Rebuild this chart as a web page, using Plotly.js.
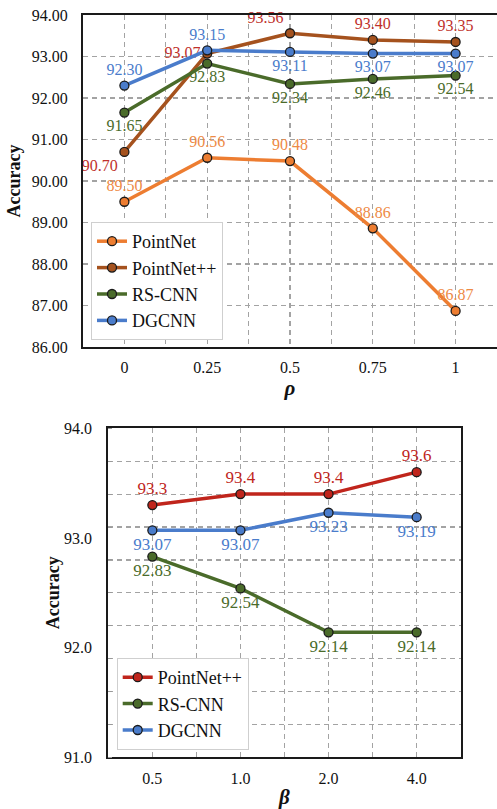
<!DOCTYPE html>
<html><head><meta charset="utf-8">
<script src="https://cdn.plot.ly/plotly-3.0.1.min.js"></script>
<style>html,body{margin:0;padding:0;background:#fff}#chart{width:497px;height:809px}</style>
</head><body><div id="chart"></div>
<script>
// ---- data: top chart (rho) ----
const rhoLabels = ['0', '0.25', '0.5', '0.75', '1'];
const pointnetRho = [89.50, 90.56, 90.48, 88.86, 86.87];
const pointnetppRho = [90.70, 93.07, 93.56, 93.40, 93.35];
const rscnnRho = [91.65, 92.83, 92.34, 92.46, 92.54];
const dgcnnRho = [92.30, 93.15, 93.11, 93.07, 93.07];
const topYTicks = [86, 87, 88, 89, 90, 91, 92, 93, 94];

// ---- data: bottom chart (beta) ----
const betaLabels = ['0.5', '1.0', '2.0', '4.0'];
const pointnetppBeta = [93.3, 93.4, 93.4, 93.6];
const rscnnBeta = [92.83, 92.54, 92.14, 92.14];
const dgcnnBeta = [93.07, 93.07, 93.23, 93.19];
const botYTicks = [91, 92, 93, 94];

const SERIF = 'Liberation Serif, Times New Roman, serif';
const C = {
  pn: '#ED7D31', pnText: '#EE8A45',
  pnpp: '#A5521E', pnppText: '#C0302B',
  rs: '#4A6B2A', rsText: '#4A6B2A',
  dg: '#4A7CCB', dgText: '#4A7CCB',
  red: '#C0251C', redText: '#C0251C'
};

const idx = arr => arr.map((_, i) => i);
const halfTicks = labels => {
  const v = [], t = [];
  labels.forEach((l, i) => { v.push(i); t.push(l); if (i < labels.length - 1) { v.push(i + 0.5); t.push(''); } });
  return {v, t};
};

function series(xa, ya, legend, name, labels, values, color, textColor, pos, decimals, tsize) {
  return {
    type: 'scatter', mode: 'lines+markers+text',
    xaxis: xa, yaxis: ya, legend: legend, legendgroup: name + legend,
    name: name,
    x: idx(labels), y: values,
    text: values.map(v => v.toFixed(decimals)),
    textposition: pos,
    textfont: {family: SERIF, size: tsize, color: textColor},
    line: {color: color, width: 3.5},
    marker: {color: color, size: 9, line: {color: '#1a1a1a', width: 1.3}},
    cliponaxis: false,
    hoverinfo: 'skip'
  };
}

const allTop = (p) => rhoLabels.map(() => p);
const allBot = (p) => betaLabels.map(() => p);

const traces = [
  series('x', 'y', 'legend', 'PointNet', rhoLabels, pointnetRho, C.pn, C.pnText, allTop('top center'), 2, 16),
  series('x', 'y', 'legend', 'PointNet++', rhoLabels, pointnetppRho, C.pnpp, C.pnppText,
         ['bottom left', 'middle left', 'top left', 'top center', 'top center'], 2, 16),
  series('x', 'y', 'legend', 'RS-CNN', rhoLabels, rscnnRho, C.rs, C.rsText, allTop('bottom center'), 2, 16),
  series('x', 'y', 'legend', 'DGCNN', rhoLabels, dgcnnRho, C.dg, C.dgText,
         ['top center', 'top center', 'bottom center', 'bottom center', 'bottom center'], 2, 16),
  series('x2', 'y2', 'legend2', 'PointNet++', betaLabels, pointnetppBeta, C.red, C.redText, allBot('top center'), 1, 17),
  series('x2', 'y2', 'legend2', 'RS-CNN', betaLabels, rscnnBeta, C.rs, C.rsText, allBot('bottom center'), 2, 17),
  series('x2', 'y2', 'legend2', 'DGCNN', betaLabels, dgcnnBeta, C.dg, C.dgText, allBot('bottom center'), 2, 17)
];

const W = 497, H = 809;
const gridStyle = {gridcolor: '#a3a3a3', gridwidth: 1.2, griddash: '5px,4px'};
const tickFont = {family: SERIF, size: 16, color: '#111'};
const topX = halfTicks(rhoLabels);
const botX = halfTicks(betaLabels);

const layout = {
  width: W, height: H,
  margin: {l: 0, r: 0, t: 0, b: 0},
  paper_bgcolor: '#fff', plot_bgcolor: '#fff',
  showlegend: true,
  xaxis: Object.assign({
    domain: [83 / W, 1], anchor: 'y',
    range: [-0.5, rhoLabels.length - 0.5],
    tickmode: 'array', tickvals: topX.v, ticktext: topX.t,
    showgrid: true, zeroline: false,
    showline: true, linecolor: '#1a1a1a', linewidth: 2, mirror: true,
    ticks: '', ticklabelstandoff: 5,
    tickfont: tickFont,
    title: {text: 'ρ', standoff: 3, font: {family: SERIF, size: 21, weight: 'bold', style: 'italic', color: '#111'}}
  }, gridStyle),
  yaxis: Object.assign({
    domain: [1 - 347 / H, 1 - 15 / H], anchor: 'x',
    range: [86, 94],
    tickmode: 'array', tickvals: topYTicks, ticktext: topYTicks.map(v => v.toFixed(2)),
    showgrid: true, zeroline: false,
    showline: true, linecolor: '#1a1a1a', linewidth: 2, mirror: true,
    ticks: '', ticklabelstandoff: 10,
    tickfont: tickFont,
    title: {text: 'Accuracy', standoff: 6, font: {family: SERIF, size: 18, weight: 'bold', color: '#111'}}
  }, gridStyle),
  xaxis2: Object.assign({
    domain: [108.3 / W, 460.7 / W], anchor: 'y2',
    range: [-0.5, betaLabels.length - 0.5],
    tickmode: 'array', tickvals: botX.v, ticktext: botX.t,
    showgrid: true, zeroline: false,
    showline: true, linecolor: '#1a1a1a', linewidth: 2, mirror: true,
    ticks: '', ticklabelstandoff: 5,
    tickfont: tickFont,
    title: {text: 'β', standoff: 5, font: {family: SERIF, size: 21, weight: 'bold', style: 'italic', color: '#111'}}
  }, gridStyle),
  yaxis2: {
    domain: [1 - 757.3 / H, 1 - 428.3 / H], anchor: 'x2',
    range: [91, 94],
    tickmode: 'array', tickvals: botYTicks, ticktext: botYTicks.map(v => v.toFixed(1)),
    showgrid: false, zeroline: false,
    showline: true, linecolor: '#1a1a1a', linewidth: 2, mirror: true,
    ticks: '', ticklabelstandoff: 11,
    tickfont: tickFont,
    minor: Object.assign({tickmode: 'linear', tick0: 91, dtick: 0.3, showgrid: true,
      ticks: 'inside', ticklen: 4, tickcolor: '#999', tickwidth: 1}, gridStyle),
    title: {text: 'Accuracy', standoff: 0, font: {family: SERIF, size: 18, weight: 'bold', color: '#111'}}
  },
  legend: {
    x: 91 / W, y: 1 - 222 / H, xanchor: 'left', yanchor: 'top',
    bgcolor: '#fff', bordercolor: '#cfcfcf', borderwidth: 1,
    font: {family: SERIF, size: 18, color: '#111'},
    tracegroupgap: 3, traceorder: 'normal'
  },
  legend2: {
    x: 116.7 / W, y: 1 - 658 / H, xanchor: 'left', yanchor: 'top',
    bgcolor: '#fff', bordercolor: '#cfcfcf', borderwidth: 1,
    font: {family: SERIF, size: 18, color: '#111'},
    tracegroupgap: 4, traceorder: 'normal'
  }
};

Plotly.newPlot('chart', traces, layout, {staticPlot: true, displayModeBar: false});
</script>
</body></html>
